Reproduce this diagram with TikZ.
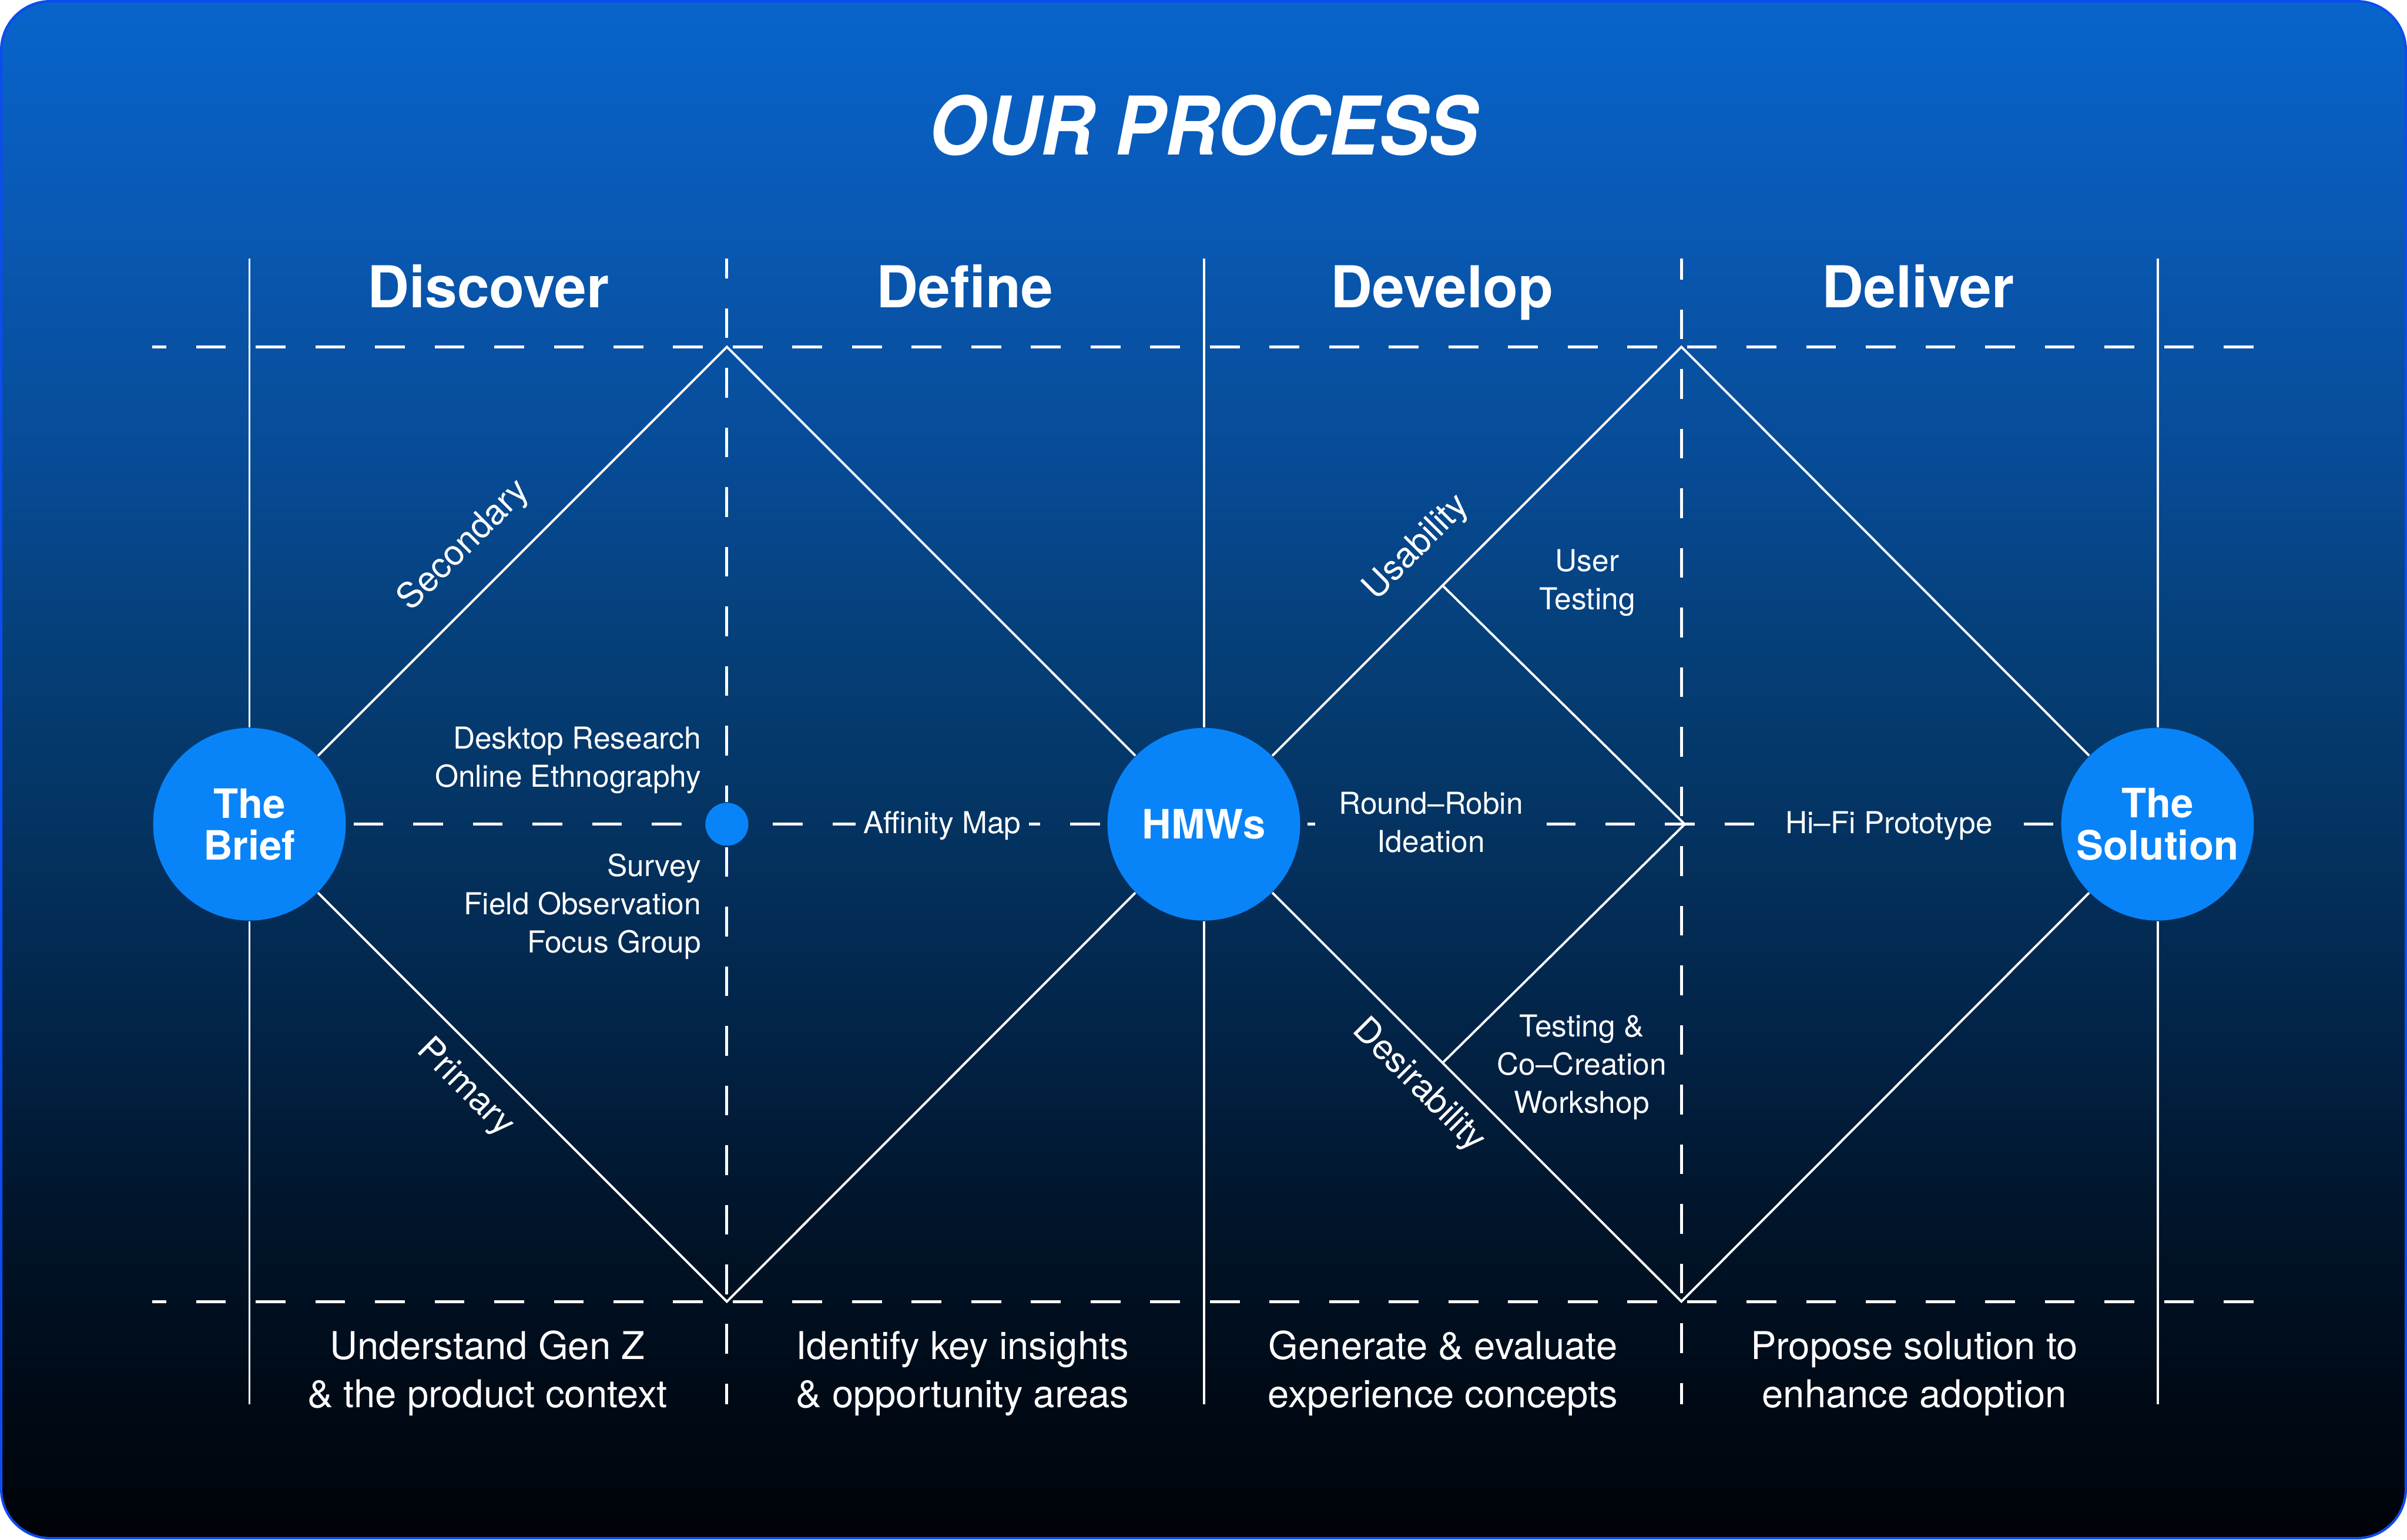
\documentclass[tikz,border=0pt]{standalone}
\usepackage{fontspec}
\setmainfont{TeX Gyre Heros}
\usepackage{graphicx}
\usetikzlibrary{calc}

\definecolor{hubblue}{RGB}{8,132,248}
\definecolor{edgeblue}{RGB}{12,76,240}
\definecolor{bgtop}{RGB}{8,100,204}
\definecolor{bghigh}{RGB}{9,88,178}
\definecolor{bgupper}{RGB}{7,75,150}
\definecolor{bgmidup}{RGB}{5,63,120}
\definecolor{bgmid}{RGB}{4,51,97}
\definecolor{bgmidlow}{RGB}{2,36,72}
\definecolor{bglow}{RGB}{1,21,43}
\definecolor{bgdeep}{RGB}{0,11,24}
\definecolor{bgbottom}{RGB}{0,3,8}

\pgfdeclareverticalshading{pagefade}{100bp}{%
  color(0bp)=(bgbottom); color(25bp)=(bgbottom);
  color(30.13bp)=(bgdeep); color(35.62bp)=(bglow);
  color(41.6bp)=(bgmidlow); color(48.08bp)=(bgmid);
  color(54.06bp)=(bgmidup); color(60bp)=(bgupper);
  color(67.5bp)=(bghigh);
  color(75bp)=(bgtop); color(100bp)=(bgtop)}

\begin{document}
\begin{tikzpicture}[x=0.2mm, y=-0.2mm,
  every node/.style={text=white, inner sep=0pt},
  rule/.style={white, line width=0.85pt},
  gridline/.style={white, line width=1.1pt, dash pattern=on 3.88mm off 3.89mm},
  hub/.style={circle, fill=hubblue, minimum size=25.1mm, align=center, font=\fontsize{15}{15.5}\selectfont\bfseries},
  phase/.style={font=\fontsize{21.4}{25}\selectfont\bfseries, anchor=base},
  method/.style={font=\fontsize{11.2}{14.2}\selectfont},
  lane/.style={font=\fontsize{13}{15}\selectfont},
  goal/.style={align=center, anchor=base, font=\fontsize{14.2}{17.9}\selectfont}]
\useasboundingbox (0,0) rectangle (1568,1003);
\shadedraw[shading=pagefade, draw=edgeblue, line width=0.32mm, rounded corners=6.4mm] (0.8,0.8) rectangle (1567.2,1002.2);

\node[font=\fontsize{30}{36}\selectfont\bfseries\itshape, anchor=base] (title) at (784,101) {\scalebox{0.92}[1]{OUR PROCESS}};

\node[phase] (discover) at (318,200.3) {Discover};
\node[phase] (define) at (628.5,200.3) {Define};
\node[phase] (develop) at (939.5,200.3) {Develop};
\node[phase] (deliver) at (1249.5,200.3) {Deliver};

\node[hub] (brief) at (162.5,537) {The\\Brief};
\node[hub] (hmws) at (784.2,537) {HMWs};
\node[hub] (sol) at (1405.5,537) {The\\Solution};
\node[circle, fill=hubblue, minimum size=5.6mm] (dot) at (473.5,537) {};

\coordinate (ltop) at (473.5,226);
\coordinate (lbot) at (473.5,848);
\coordinate (rtop) at (1095.3,226);
\coordinate (rbot) at (1095.3,848);
\coordinate (ivx) at (1097.5,537);
\coordinate (usab) at ($(hmws)!0.5!(rtop)$);
\coordinate (desir) at ($(hmws)!0.5!(rbot)$);

\foreach \h in {brief,hmws,sol} {
  \draw[rule] (\h.north) -- ++(0,-305.5);
  \draw[rule] (\h.south) -- ++(0,314.8);
}
\draw[gridline, dash phase=1.3mm] (473.5,168.5) -- (dot.north);
\draw[gridline, dash phase=7.67mm] (dot.south) -- (473.5,915);
\draw[gridline, dash phase=1.14mm] (1095.3,168.5) -- (1095.3,915);
\draw[gridline, dash phase=2.03mm] (99,226) -- (1469,226);
\draw[gridline, dash phase=2.03mm] (99,848) -- (1469,848);

\draw[rule] (brief) -- (ltop) -- (hmws);
\draw[rule] (brief) -- (lbot) -- (hmws);
\draw[rule] (hmws) -- (rtop) -- (sol);
\draw[rule] (hmws) -- (rbot) -- (sol);
\draw[rule] (usab) -- (ivx) -- (desir);

\node[method, anchor=base, inner xsep=1mm, inner ysep=0.6mm] (aff) at (613.8,543) {Affinity Map};
\node[method, align=center, anchor=base, inner xsep=3mm] (rr) at (932.2,555.2) {Round--Robin\\Ideation};
\node[method, anchor=base, inner xsep=1mm, inner ysep=0.6mm] (hifi) at (1230.5,543) {Hi--Fi Prototype};

\draw[gridline, dash phase=6.83mm] (brief.east) -- (dot.west);
\draw[gridline, dash phase=4.64mm] (dot.east) -- (aff.west |- dot.east);
\draw[gridline, dash phase=2.43mm] (aff.east |- hmws.west) -- (hmws.west);
\draw[gridline, dash phase=6.91mm] (hmws.east) -- (rr.west |- hmws.east);
\draw[gridline, dash phase=0.14mm] (rr.east |- hmws.east) -- (hifi.west |- hmws.east);
\draw[gridline, dash phase=4.79mm] (hifi.east |- sol.west) -- (sol.west);

\node[method, align=right, anchor=base east] (desk) at (457,512.8) {Desktop Research\\Online Ethnography};
\node[method, align=right, anchor=base east] (field) at (457,620.7) {Survey\\Field Observation\\Focus Group};
\node[method, align=center, anchor=base] (usert) at (1034,397.1) {User\\Testing};
\node[method, align=center, anchor=base] (cocreate) at (1030.4,725.3) {Testing \&\\Co--Creation\\Workshop};

\node[lane, rotate=45] (second) at (302.5,355.5) {Secondary};
\node[lane, rotate=-45] (primary) at (303,709) {Primary};
\node[lane, rotate=45] (usable) at (923,357) {Usability};
\node[lane, rotate=-45] (desire) at (924,707.5) {Desirability};

\node[goal] (goalone) at (317.5,917) {Understand Gen Z\\\& the product context};
\node[goal] (goaltwo) at (627,917) {Identify key insights\\\& opportunity areas};
\node[goal] (goalthree) at (940,917) {Generate \& evaluate\\experience concepts};
\node[goal] (goalfour) at (1247,917) {Propose solution to\\enhance adoption};
\end{tikzpicture}
\end{document}
